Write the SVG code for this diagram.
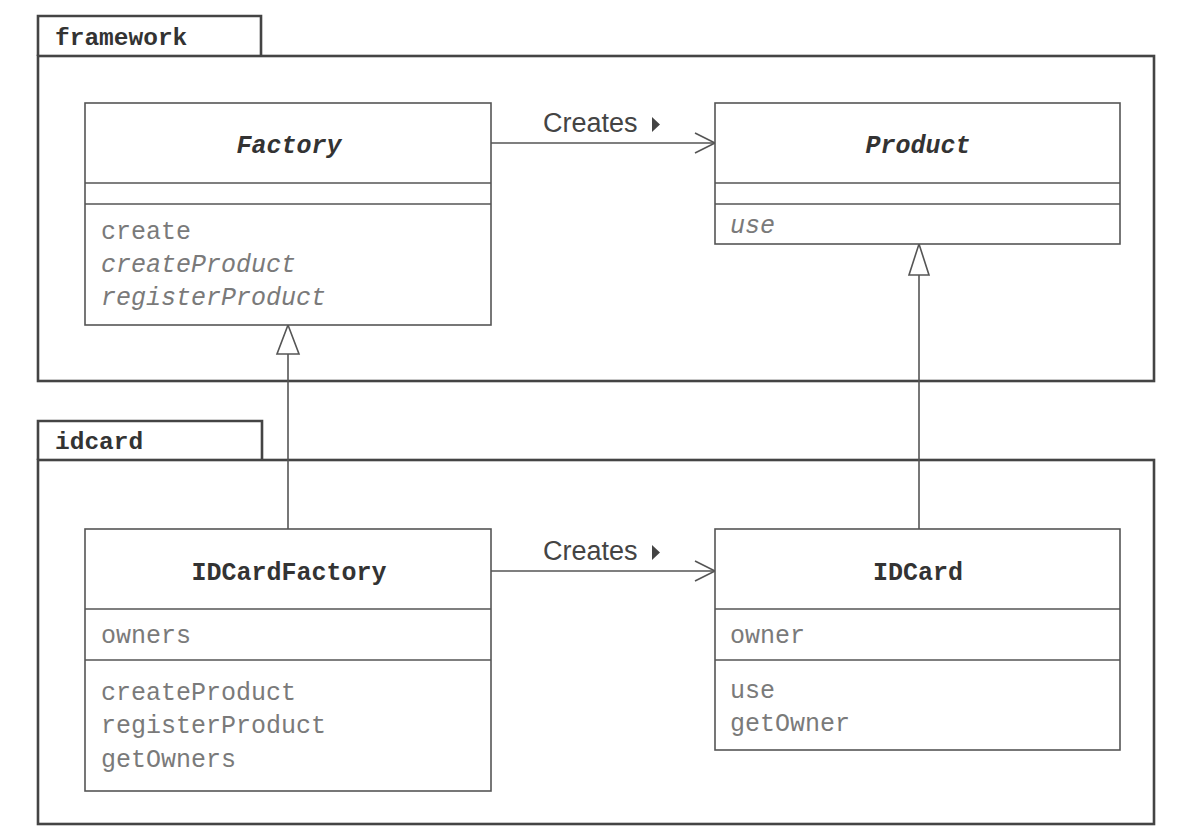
<svg xmlns="http://www.w3.org/2000/svg" width="1180" height="837" viewBox="0 0 1180 837">
  <style>
    .pkg { fill: none; stroke: #444; stroke-width: 2.6; }
    .box { fill: #fff; stroke: #555; stroke-width: 1.6; }
    .div { stroke: #555; stroke-width: 1.6; }
    .pkgname { font-family: "Liberation Mono", monospace; font-weight: bold; font-size: 24.5px; fill: #333; }
    .cls { font-family: "Liberation Mono", monospace; font-weight: bold; font-size: 25px; fill: #333; text-anchor: middle; }
    .abs { font-style: italic; }
    .mem { font-family: "Liberation Mono", monospace; font-size: 25px; fill: #7a7a7a; }
    .lbl { font-family: "Liberation Sans", Arial, sans-serif; font-size: 27px; fill: #444; }
    .line { fill: none; stroke: #555; stroke-width: 1.6; }
  </style>
  <defs>
    <marker id="open" markerUnits="userSpaceOnUse" markerWidth="24" markerHeight="24" refX="21" refY="11" orient="auto">
      <path d="M1,1 L21,11 L1,21" fill="none" stroke="#555" stroke-width="1.6"/>
    </marker>
  </defs>

  <rect width="1180" height="837" fill="#fff"/>

  <!-- packages -->
  <g id="pkg-framework">
    <path class="pkg" d="M38,56 V16 H261 V56"/>
    <rect class="pkg" x="38" y="56" width="1116" height="325"/>
    <text class="pkgname" x="55" y="45">framework</text>
  </g>
  <g id="pkg-idcard">
    <path class="pkg" d="M38,460 V421 H262 V460"/>
    <rect class="pkg" x="38" y="460" width="1116" height="364"/>
    <text class="pkgname" x="55" y="449">idcard</text>
  </g>

  <!-- connectors -->
  <g id="connectors">
    <line class="line" x1="491" y1="143" x2="715" y2="143" marker-end="url(#open)"/>
    <text class="lbl" x="543" y="132">Creates</text>
    <path d="M652,117 L660,124.5 L652,132 Z" fill="#444"/>

    <line class="line" x1="491" y1="571" x2="715" y2="571" marker-end="url(#open)"/>
    <text class="lbl" x="543" y="560">Creates</text>
    <path d="M652,545 L660,552.5 L652,560 Z" fill="#444"/>

    <line class="line" x1="288" y1="529" x2="288" y2="354"/>
    <path d="M288,325 L299,354 L277,354 Z" fill="#fff" stroke="#555" stroke-width="1.6"/>

    <line class="line" x1="919" y1="529" x2="919" y2="275"/>
    <path d="M919,244 L929,275 L909,275 Z" fill="#fff" stroke="#555" stroke-width="1.6"/>
  </g>

  <!-- classes -->
  <g id="Factory">
    <rect class="box" x="85" y="103" width="406" height="222"/>
    <line class="div" x1="85" y1="183" x2="491" y2="183"/>
    <line class="div" x1="85" y1="204" x2="491" y2="204"/>
    <text class="cls abs" x="289" y="153">Factory</text>
    <text class="mem" x="101" y="239">create</text>
    <text class="mem abs" x="101" y="272">createProduct</text>
    <text class="mem abs" x="101" y="305">registerProduct</text>
  </g>
  <g id="Product">
    <rect class="box" x="715" y="103" width="405" height="141"/>
    <line class="div" x1="715" y1="183" x2="1120" y2="183"/>
    <line class="div" x1="715" y1="204" x2="1120" y2="204"/>
    <text class="cls abs" x="918" y="153">Product</text>
    <text class="mem abs" x="730" y="233">use</text>
  </g>
  <g id="IDCardFactory">
    <rect class="box" x="85" y="529" width="406" height="262"/>
    <line class="div" x1="85" y1="609" x2="491" y2="609"/>
    <line class="div" x1="85" y1="660" x2="491" y2="660"/>
    <text class="cls" x="289" y="580">IDCardFactory</text>
    <text class="mem" x="101" y="643">owners</text>
    <text class="mem" x="101" y="700">createProduct</text>
    <text class="mem" x="101" y="733">registerProduct</text>
    <text class="mem" x="101" y="767">getOwners</text>
  </g>
  <g id="IDCard">
    <rect class="box" x="715" y="529" width="405" height="221"/>
    <line class="div" x1="715" y1="609" x2="1120" y2="609"/>
    <line class="div" x1="715" y1="660" x2="1120" y2="660"/>
    <text class="cls" x="918" y="580">IDCard</text>
    <text class="mem" x="730" y="643">owner</text>
    <text class="mem" x="730" y="698">use</text>
    <text class="mem" x="730" y="731">getOwner</text>
  </g>
</svg>
